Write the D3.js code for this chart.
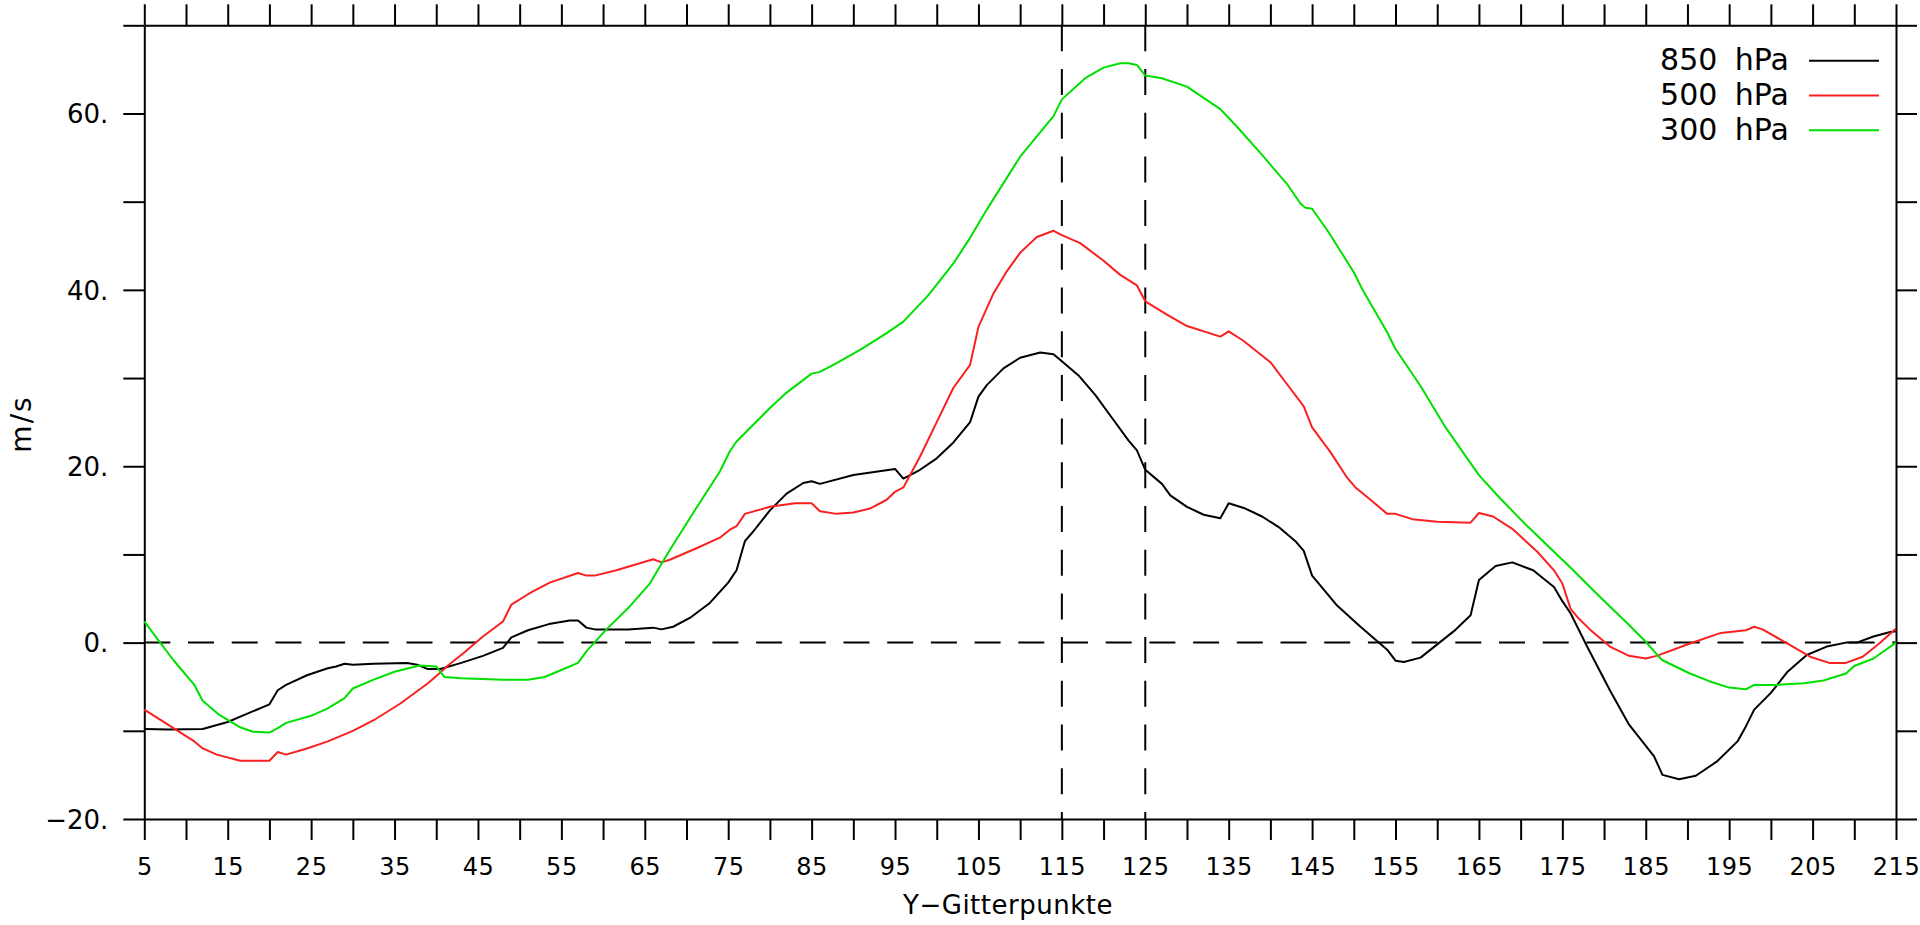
<!DOCTYPE html>
<html>
<head>
<meta charset="utf-8">
<script src="https://cdn.jsdelivr.net/npm/d3@7"></script>
<style>
  html, body { margin: 0; padding: 0; background: #fff; }
  svg text { font-family: "DejaVu Sans", sans-serif; fill: #000; }
</style>
</head>
<body>
<svg id="chart" width="1920" height="925"></svg>
<script>
// grid points and wind speed (m/s)
var x850 = [5, 8, 12, 15, 17, 20, 21, 22, 24.5, 27, 28, 29, 30, 32.5, 36.5, 37.7, 39, 40.5, 43, 45.6, 48, 49, 51, 53.5, 56, 57, 58, 59, 63, 66, 67, 68.4, 70.4, 72.8, 75, 76, 77, 78, 80, 82, 84, 85, 86, 90, 95, 96, 98, 100, 102, 104, 105, 106, 108, 110, 112.4, 114, 115, 117, 119, 121, 123, 124, 125, 127, 128, 130, 132, 134, 135, 137, 139, 141, 143, 144, 145, 148, 150.8, 154, 155, 156, 158, 160, 162, 164, 165, 167, 169, 171.5, 174, 175, 176, 178, 180.7, 183, 186, 187, 189, 191, 193.5, 196, 197, 198, 200, 202, 204.3, 206.7, 209, 210.3, 212.3, 214.3, 215];
var u850 = [-9.8, -9.85, -9.8, -9.0, -8.2, -7.0, -5.4, -4.8, -3.7, -2.9, -2.7, -2.4, -2.5, -2.4, -2.3, -2.5, -3.0, -3.0, -2.3, -1.5, -0.6, 0.6, 1.4, 2.1, 2.5, 2.5, 1.7, 1.5, 1.5, 1.7, 1.5, 1.8, 2.8, 4.5, 6.8, 8.2, 11.5, 12.6, 15.0, 16.9, 18.1, 18.3, 18.0, 19.0, 19.7, 18.6, 19.6, 20.9, 22.7, 25.0, 27.9, 29.2, 31.1, 32.3, 32.9, 32.7, 31.9, 30.3, 28.1, 25.5, 22.9, 21.8, 19.6, 18.0, 16.7, 15.4, 14.5, 14.1, 15.8, 15.2, 14.3, 13.1, 11.5, 10.4, 7.6, 4.2, 1.8, -0.8, -2.05, -2.2, -1.7, -0.2, 1.3, 3.1, 7.1, 8.7, 9.1, 8.2, 6.3, 4.7, 3.3, -0.5, -5.4, -9.3, -12.9, -15.0, -15.5, -15.1, -13.5, -11.2, -9.5, -7.6, -5.7, -3.3, -1.4, -0.45, 0, 0, 0.7, 1.2, 1.3];

var x500 = [5, 8.5, 11, 12, 13.7, 16.5, 20, 21, 22, 24.5, 27, 30, 32.5, 35.7, 39, 40.5, 41.25, 43.25, 45.6, 48, 49, 51.2, 53.6, 57, 58, 59, 61.6, 66, 67, 68, 71.2, 74, 75.2, 76, 77, 80, 83, 85, 86, 88, 90, 92, 94, 95, 96, 98, 100, 102, 104, 105, 106.8, 108.4, 110, 111, 112, 114, 115, 117.2, 120, 122, 124, 125, 127.6, 130, 134, 135, 136.8, 140, 142, 144, 145, 147.2, 149.2, 150.2, 152, 154, 155, 157, 160, 164, 165, 166.7, 169, 172, 174, 175, 176, 177, 178.3, 180.7, 183, 185, 186.3, 190.3, 194, 197, 198, 199, 202, 204.7, 207, 209, 211, 213, 215];
var u500 = [-7.6, -9.7, -11.2, -12.0, -12.7, -13.4, -13.4, -12.4, -12.7, -12.0, -11.2, -10.0, -8.8, -6.9, -4.6, -3.4, -2.7, -1.2, 0.7, 2.4, 4.3, 5.6, 6.8, 7.9, 7.6, 7.6, 8.2, 9.45, 9.1, 9.4, 10.7, 11.9, 12.8, 13.2, 14.6, 15.4, 15.8, 15.8, 14.9, 14.6, 14.75, 15.2, 16.2, 17.1, 17.6, 21.1, 25.0, 28.9, 31.5, 35.8, 39.6, 42.1, 44.2, 45.1, 46.0, 46.7, 46.2, 45.3, 43.3, 41.7, 40.5, 38.7, 37.2, 35.9, 34.7, 35.3, 34.2, 31.8, 29.3, 26.8, 24.4, 21.6, 18.7, 17.6, 16.2, 14.6, 14.6, 14.0, 13.7, 13.6, 14.7, 14.3, 12.9, 10.3, 8.2, 6.7, 3.8, 2.7, 1.5, -0.45, -1.5, -1.8, -1.5, -0.1, 1.1, 1.4, 1.8, 1.5, -0.1, -1.6, -2.3, -2.3, -1.6, -0.1, 1.6];

var x300 = [5, 6.9, 8.5, 11, 12, 14, 16.5, 18, 20, 21, 22, 25, 27, 29, 30, 32.5, 35, 38, 40, 41, 43, 48, 51, 53, 55, 57, 58, 60.4, 63.2, 65.6, 68, 70.8, 74, 75.2, 76, 78, 80, 82, 85, 86, 88, 91, 94, 96, 99, 102, 104, 106, 108, 110, 114, 115, 117.8, 120, 122, 123, 124, 125, 127, 130, 134, 136, 139, 142, 143.6, 144.2, 145, 147, 150, 151, 154, 155, 158, 161, 165, 167.5, 170.7, 174, 176.3, 178.3, 180.7, 183, 185, 186.3, 187, 190.3, 192.7, 195, 197, 198, 200.7, 204, 206.3, 209, 210, 212.3, 215];
var u300 = [2.4, 0, -2.0, -4.8, -6.6, -8.2, -9.6, -10.1, -10.2, -9.7, -9.1, -8.3, -7.45, -6.3, -5.2, -4.2, -3.3, -2.6, -2.7, -3.9, -4.05, -4.2, -4.2, -3.9, -3.1, -2.3, -1.0, 1.5, 4.1, 6.7, 10.5, 14.7, 19.4, 21.7, 22.8, 24.7, 26.6, 28.35, 30.5, 30.7, 31.7, 33.3, 35.1, 36.4, 39.4, 43.0, 45.9, 49.1, 52.1, 55.1, 59.7, 61.6, 64.0, 65.2, 65.7, 65.7, 65.5, 64.3, 64.0, 63.05, 60.5, 58.5, 55.3, 52.0, 49.8, 49.3, 49.2, 46.5, 42.0, 40.1, 35.2, 33.3, 29.1, 24.4, 19.0, 16.4, 13.3, 10.3, 8.2, 6.3, 4.1, 2.0, 0.1, -1.3, -2.0, -3.5, -4.4, -5.1, -5.3, -4.8, -4.8, -4.6, -4.3, -3.5, -2.65, -1.8, 0];

var seriesNames = ['850 hPa', '500 hPa', '300 hPa'];
var seriesColors = ['#000000', '#fa2020', '#00e000'];

var xTicks = d3.range(5, 216, 5);
var xLabels = d3.range(5, 216, 10);
var yTicks = d3.range(-20, 71, 10);
var yLabels = [-20, 0, 20, 40, 60];
var markedPoints = [115, 125];

var svg = d3.select('#chart');

// frame of the plot area
var plotL = 144.3, plotR = 1896, plotT = 25.3, plotB = 819;

var x = d3.scaleLinear().domain([5, 215]).range([plotL, plotR]);
var y = d3.scaleLinear().domain([-20, 70]).range([plotB, plotT]);

function fmtY(v) {
  if (yLabels.indexOf(v) < 0) return '';
  return (v < 0 ? '\u2212' + Math.abs(v) : v) + '.';
}

// axes on all four sides, ticks pointing outwards
var axisB = d3.axisBottom(x).tickValues(xTicks).tickSize(21).tickSizeOuter(0)
  .tickFormat(function(d) { return xLabels.indexOf(d) >= 0 ? d : ''; });
var axisT = d3.axisTop(x).tickValues(xTicks).tickSize(21).tickSizeOuter(0).tickFormat('');
var axisL = d3.axisLeft(y).tickValues(yTicks).tickSize(21).tickSizeOuter(0).tickFormat(fmtY);
var axisR = d3.axisRight(y).tickValues(yTicks).tickSize(21).tickSizeOuter(0).tickFormat('');

function styleAxis(g) {
  g.selectAll('path, line').attr('stroke', '#000').attr('stroke-width', 2);
}

svg.append('g').attr('transform', 'translate(0,' + plotB + ')').call(axisB).call(styleAxis)
  .selectAll('text').attr('font-size', 24).attr('letter-spacing', 0.5)
  .attr('dy', null).attr('y', 56);
svg.append('g').attr('transform', 'translate(0,' + plotT + ')').call(axisT).call(styleAxis);
svg.append('g').attr('transform', 'translate(' + plotL + ',0)').call(axisL).call(styleAxis)
  .selectAll('text').attr('font-size', 26).attr('x', -36).attr('dy', '0.36em');
svg.append('g').attr('transform', 'translate(' + plotR + ',0)').call(axisR).call(styleAxis);

// dashed reference lines
var dash = '26,17.7';
svg.append('line')
  .attr('x1', x(5)).attr('x2', x(215)).attr('y1', y(0)).attr('y2', y(0))
  .attr('stroke', '#000').attr('stroke-width', 2).attr('stroke-dasharray', dash);
svg.selectAll('.vmark').data(markedPoints).enter().append('line')
  .attr('class', 'vmark')
  .attr('x1', function(d) { return x(d); }).attr('x2', function(d) { return x(d); })
  .attr('y1', plotT).attr('y2', plotB)
  .attr('stroke', '#000').attr('stroke-width', 2).attr('stroke-dasharray', dash);

// the three curves
var series = [
  { xs: x850, us: u850 },
  { xs: x500, us: u500 },
  { xs: x300, us: u300 }
];
var line = d3.line().x(function(d) { return x(d[0]); }).y(function(d) { return y(d[1]); });

series.forEach(function(s, i) {
  svg.append('path')
    .datum(d3.zip(s.xs, s.us))
    .attr('d', line)
    .attr('fill', 'none')
    .attr('stroke', seriesColors[i])
    .attr('stroke-width', 2)
    .attr('stroke-linejoin', 'round');
});

// legend, top right
var legend = svg.append('g').attr('class', 'legend');
seriesNames.forEach(function(name, i) {
  var ly = 60.7 + i * 34.8;
  legend.append('text')
    .attr('x', 1789).attr('y', ly + 9.5)
    .attr('text-anchor', 'end')
    .attr('font-size', 30)
    .attr('word-spacing', 8)
    .text(name);
  legend.append('line')
    .attr('x1', 1809).attr('x2', 1879).attr('y1', ly).attr('y2', ly)
    .attr('stroke', seriesColors[i]).attr('stroke-width', 2);
});

// axis titles
svg.append('text')
  .attr('x', 1008).attr('y', 914)
  .attr('text-anchor', 'middle')
  .attr('font-size', 26)
  .attr('letter-spacing', 0.5)
  .text('Y\u2212Gitterpunkte');

svg.append('text')
  .attr('transform', 'translate(31,424) rotate(-90)')
  .attr('text-anchor', 'middle')
  .attr('font-size', 28)
  .attr('letter-spacing', 2)
  .text('m/s');
</script>
</body>
</html>
